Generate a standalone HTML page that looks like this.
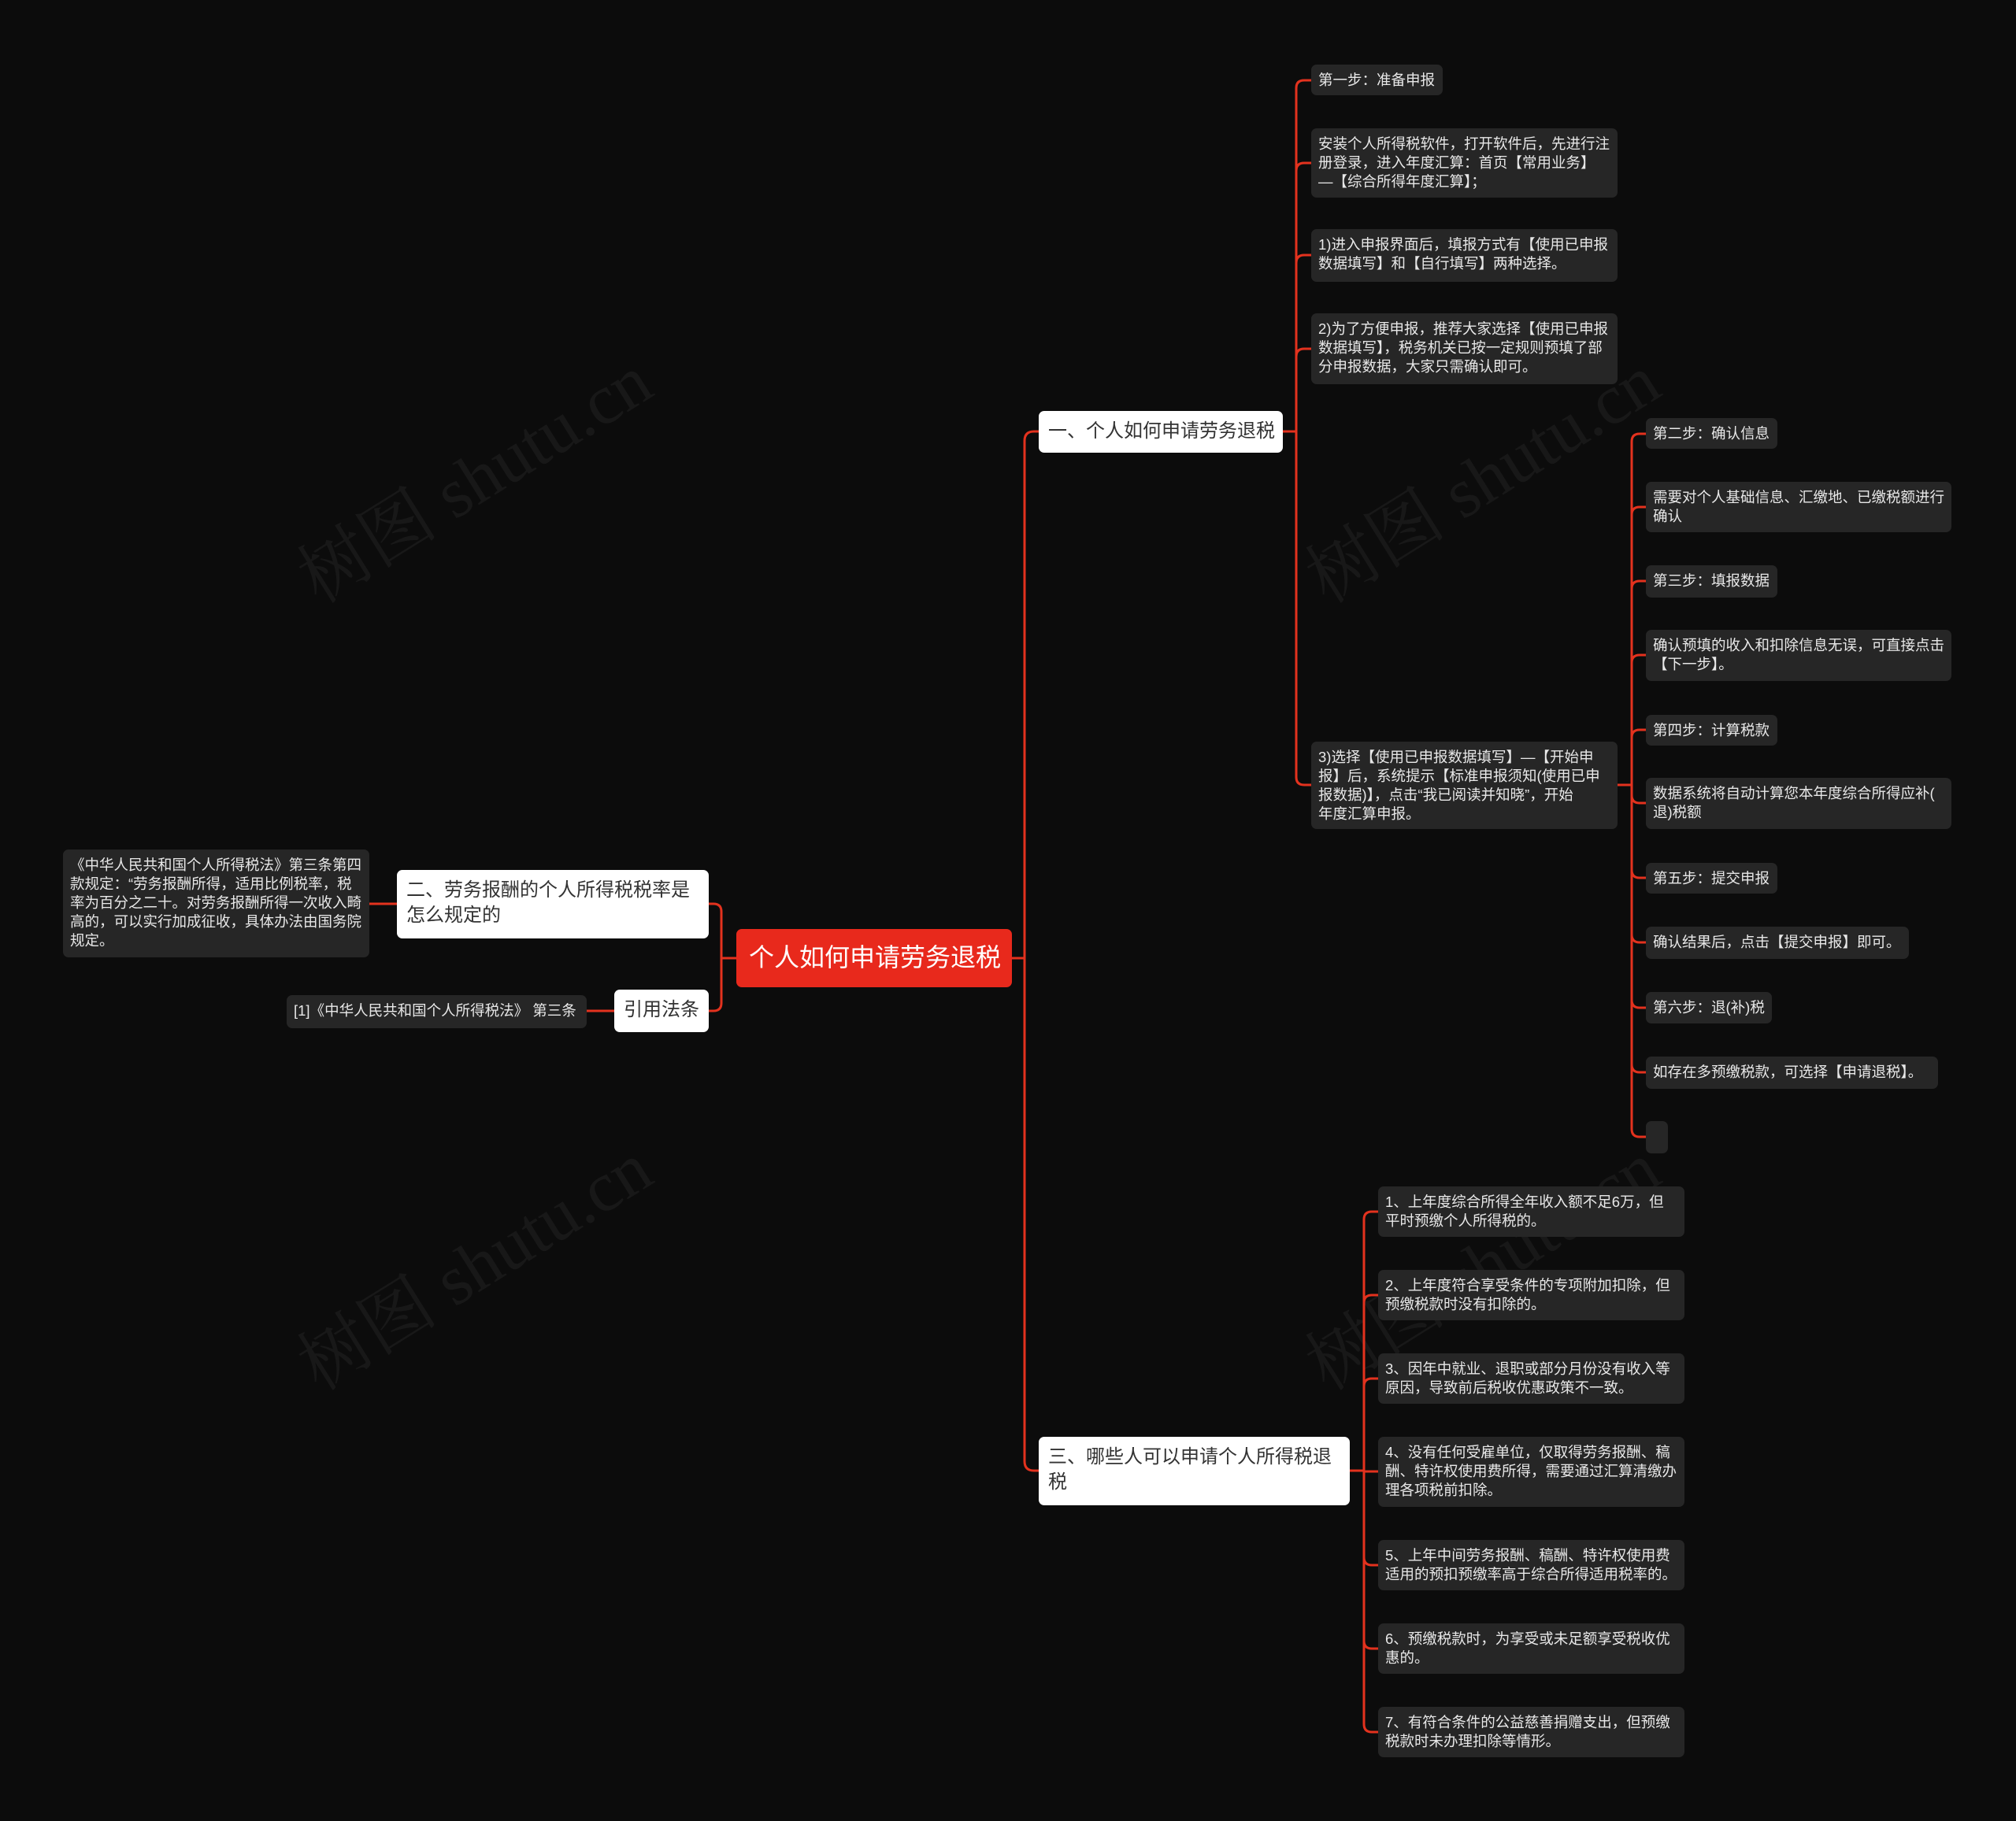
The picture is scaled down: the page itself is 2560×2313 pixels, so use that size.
<!DOCTYPE html>
<html><head><meta charset="utf-8"><style>
html,body{margin:0;padding:0;background:#0c0c0c;}
body{width:2560px;height:2313px;position:relative;overflow:hidden;font-family:"Liberation Sans","Noto Sans CJK SC",sans-serif;}
.n{position:absolute;box-sizing:border-box;}
.leaf{background:#262626;color:#e8e8e8;font-size:18.5px;line-height:24px;padding:8px 9px;border-radius:7px;white-space:nowrap;}
.br{background:#fff;color:#333;font-size:24px;line-height:32px;padding:10px 12px;border-radius:7px;white-space:nowrap;}
.root{background:#e8291c;color:#fff;font-size:32px;line-height:40px;padding:16px 16px;border-radius:7px;white-space:nowrap;text-align:center;}
.wm{position:absolute;color:#181818;font-size:90px;font-family:"Liberation Serif","Noto Serif CJK SC",serif;transform:rotate(-32deg);transform-origin:left top;white-space:nowrap;}
svg{position:absolute;left:0;top:0;}
</style></head><body>
<div class="wm" style="left:350px;top:680px;">树图 shutu.cn</div>
<div class="wm" style="left:1630px;top:680px;">树图 shutu.cn</div>
<div class="wm" style="left:350px;top:1680px;">树图 shutu.cn</div>
<div class="wm" style="left:1630px;top:1680px;">树图 shutu.cn</div>
<svg width="2560" height="2313" fill="none" stroke="#e3321e" stroke-width="3">
<path d="M1285,1217H1301"/>
<path d="M1301,1217V560Q1301,548 1313,548H1319"/>
<path d="M1301,1217V1856Q1301,1868 1313,1868H1319"/>
<path d="M1629,548H1646"/>
<path d="M1646,548V112Q1646,102 1656,102H1665"/>
<path d="M1646,548V217Q1646,207 1656,207H1665"/>
<path d="M1646,548V334Q1646,324 1656,324H1665"/>
<path d="M1646,548V453Q1646,443 1656,443H1665"/>
<path d="M1646,548V987Q1646,997 1656,997H1665"/>
<path d="M2054,997H2072"/>
<path d="M2072,997V561Q2072,551 2082,551H2090"/>
<path d="M2072,997V654Q2072,644 2082,644H2090"/>
<path d="M2072,997V748Q2072,738 2082,738H2090"/>
<path d="M2072,997V842Q2072,832 2082,832H2090"/>
<path d="M2072,997V937Q2072,927 2082,927H2090"/>
<path d="M2072,997V1010Q2072,1020 2082,1020H2090"/>
<path d="M2072,997V1105Q2072,1115 2082,1115H2090"/>
<path d="M2072,997V1187Q2072,1197 2082,1197H2090"/>
<path d="M2072,997V1270Q2072,1280 2082,1280H2090"/>
<path d="M2072,997V1352Q2072,1362 2082,1362H2090"/>
<path d="M2072,997V1434Q2072,1444 2082,1444H2090"/>
<path d="M1714,1868H1732"/>
<path d="M1732,1868V1549Q1732,1539 1742,1539H1750"/>
<path d="M1732,1868V1655Q1732,1645 1742,1645H1750"/>
<path d="M1732,1868V1761Q1732,1751 1742,1751H1750"/>
<path d="M1732,1868V1869H1750"/>
<path d="M1732,1868V1978Q1732,1988 1742,1988H1750"/>
<path d="M1732,1868V2084Q1732,2094 1742,2094H1750"/>
<path d="M1732,1868V2190Q1732,2200 1742,2200H1750"/>
<path d="M935,1217H916"/>
<path d="M916,1217V1158Q916,1148 906,1148H900"/>
<path d="M916,1217V1274Q916,1284 906,1284H900"/>
<path d="M504,1148H469"/>
<path d="M780,1284H745"/>
</svg>

<div class="n root" style="left:935px;top:1180px;width:350px;height:74px;">个人如何申请劳务退税</div>

<div class="n br" style="left:1319px;top:522px;width:310px;height:53px;">一、个人如何申请劳务退税</div>
<div class="n br" style="left:504px;top:1105px;width:396px;height:87px;">二、劳务报酬的个人所得税税率是<br>怎么规定的</div>
<div class="n br" style="left:780px;top:1257px;width:120px;height:54px;">引用法条</div>
<div class="n br" style="left:1319px;top:1825px;width:395px;height:87px;">三、哪些人可以申请个人所得税退<br>税</div>

<div class="n leaf" style="left:80px;top:1079px;width:389px;height:137px;">《中华人民共和国个人所得税法》第三条第四<br>款规定：“劳务报酬所得，适用比例税率，税<br>率为百分之二十。对劳务报酬所得一次收入畸<br>高的，可以实行加成征收，具体办法由国务院<br>规定。</div>
<div class="n leaf" style="left:364px;top:1264px;width:381px;height:42px;">[1]《中华人民共和国个人所得税法》 第三条</div>

<div class="n leaf" style="left:1665px;top:82px;width:167px;height:39px;">第一步：准备申报</div>
<div class="n leaf" style="left:1665px;top:163px;width:389px;height:88px;">安装个人所得税软件，打开软件后，先进行注<br>册登录，进入年度汇算：首页【常用业务】<br>—【综合所得年度汇算】；</div>
<div class="n leaf" style="left:1665px;top:291px;width:389px;height:67px;">1)进入申报界面后，填报方式有【使用已申报<br>数据填写】和【自行填写】两种选择。</div>
<div class="n leaf" style="left:1665px;top:398px;width:389px;height:90px;">2)为了方便申报，推荐大家选择【使用已申报<br>数据填写】，税务机关已按一定规则预填了部<br>分申报数据，大家只需确认即可。</div>
<div class="n leaf" style="left:1665px;top:942px;width:389px;height:111px;">3)选择【使用已申报数据填写】—【开始申<br>报】后，系统提示【标准申报须知(使用已申<br>报数据)】，点击“我已阅读并知晓”，开始<br>年度汇算申报。</div>

<div class="n leaf" style="left:2090px;top:531px;width:167px;height:39px;">第二步：确认信息</div>
<div class="n leaf" style="left:2090px;top:612px;width:388px;height:64px;">需要对个人基础信息、汇缴地、已缴税额进行<br>确认</div>
<div class="n leaf" style="left:2090px;top:718px;width:167px;height:41px;">第三步：填报数据</div>
<div class="n leaf" style="left:2090px;top:800px;width:388px;height:65px;">确认预填的收入和扣除信息无误，可直接点击<br>【下一步】。</div>
<div class="n leaf" style="left:2090px;top:908px;width:167px;height:39px;">第四步：计算税款</div>
<div class="n leaf" style="left:2090px;top:988px;width:388px;height:65px;">数据系统将自动计算您本年度综合所得应补(<br>退)税额</div>
<div class="n leaf" style="left:2090px;top:1096px;width:167px;height:39px;">第五步：提交申报</div>
<div class="n leaf" style="left:2090px;top:1177px;width:334px;height:41px;">确认结果后，点击【提交申报】即可。</div>
<div class="n leaf" style="left:2090px;top:1260px;width:160px;height:40px;">第六步：退(补)税</div>
<div class="n leaf" style="left:2090px;top:1342px;width:371px;height:41px;">如存在多预缴税款，可选择【申请退税】。</div>
<div class="n leaf" style="left:2090px;top:1424px;width:28px;height:41px;"></div>

<div class="n leaf" style="left:1750px;top:1507px;width:389px;height:64px;">1、上年度综合所得全年收入额不足6万，但<br>平时预缴个人所得税的。</div>
<div class="n leaf" style="left:1750px;top:1613px;width:389px;height:64px;">2、上年度符合享受条件的专项附加扣除，但<br>预缴税款时没有扣除的。</div>
<div class="n leaf" style="left:1750px;top:1719px;width:389px;height:64px;">3、因年中就业、退职或部分月份没有收入等<br>原因，导致前后税收优惠政策不一致。</div>
<div class="n leaf" style="left:1750px;top:1825px;width:389px;height:89px;">4、没有任何受雇单位，仅取得劳务报酬、稿<br>酬、特许权使用费所得，需要通过汇算清缴办<br>理各项税前扣除。</div>
<div class="n leaf" style="left:1750px;top:1956px;width:389px;height:64px;">5、上年中间劳务报酬、稿酬、特许权使用费<br>适用的预扣预缴率高于综合所得适用税率的。</div>
<div class="n leaf" style="left:1750px;top:2062px;width:389px;height:64px;">6、预缴税款时，为享受或未足额享受税收优<br>惠的。</div>
<div class="n leaf" style="left:1750px;top:2168px;width:389px;height:64px;">7、有符合条件的公益慈善捐赠支出，但预缴<br>税款时未办理扣除等情形。</div>
</body></html>
